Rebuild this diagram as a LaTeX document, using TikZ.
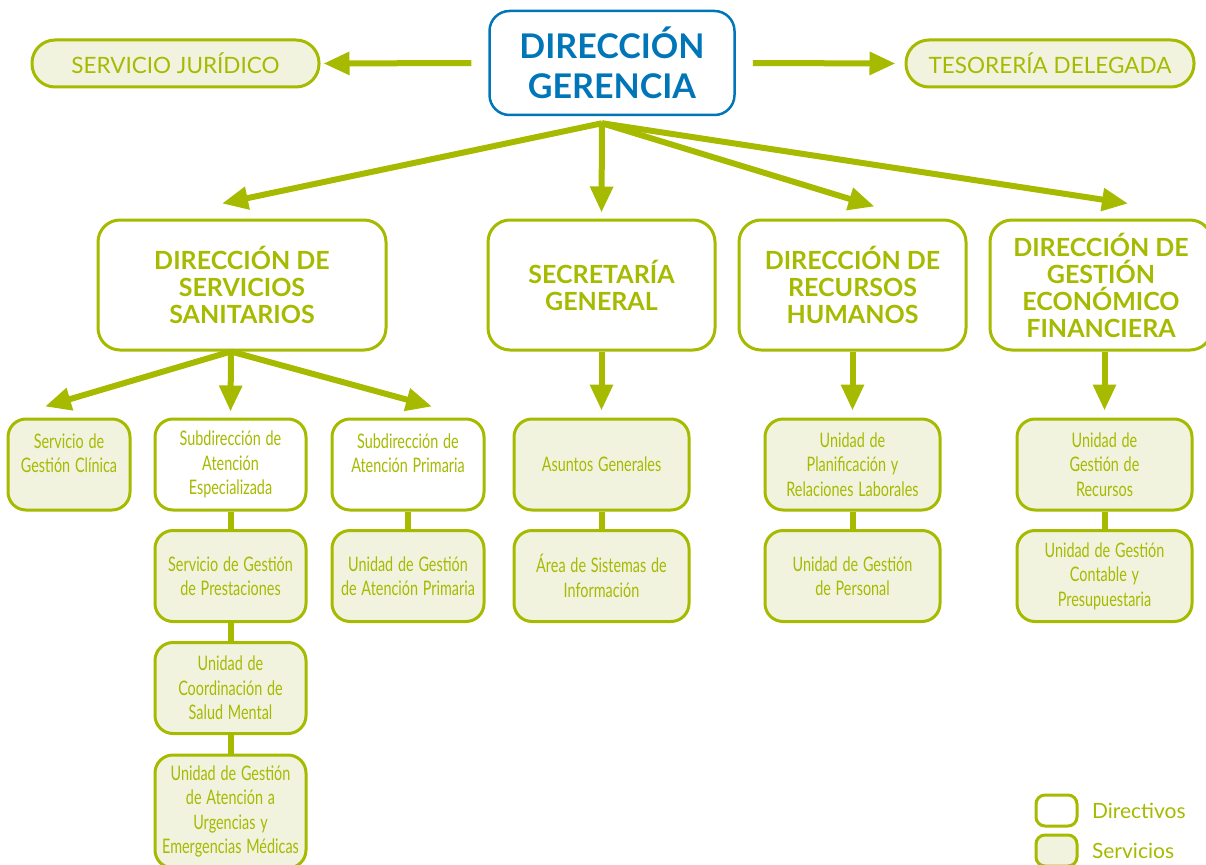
\documentclass[tikz,border=0pt]{standalone}
\usepackage{fontspec}
\setmainfont{Lato}
\newfontfamily\narrowfont[FakeStretch=0.72, WordSpace=1.3]{Lato}
\usetikzlibrary{arrows.meta}
\definecolor{lima}{RGB}{166,186,0}
\definecolor{limafill}{RGB}{241,243,223}
\definecolor{azul}{RGB}{0,118,184}
\tikzset{
  box/.style={draw=lima, line width=3pt, rounded corners=18pt, align=center, inner sep=0pt, text=lima},
  dirbox/.style={box, fill=white},
  servbox/.style={box, fill=limafill},
  headbox/.style={dirbox, minimum height=130pt, rounded corners=22pt, font=\bfseries\fontsize{25}{27}\selectfont},
  smallbox/.style={minimum height=91pt, font=\narrowfont\fontsize{20}{24.5}\selectfont},
  pillbox/.style={servbox, minimum height=47pt, rounded corners=23pt, font=\fontsize{22.5}{26}\selectfont},
  arr/.style={draw=lima, line width=6pt, -{Triangle[length=26pt,width=22pt]}},
  link/.style={draw=lima, line width=6pt}
}
\begin{document}
\begin{tikzpicture}[x=1pt, y=-1pt]
  \useasboundingbox (0,0) rectangle (1206,864);

  % top
  \node[box, draw=azul, text=azul, fill=white, line width=2.5pt, minimum width=245pt, minimum height=104pt, rounded corners=20pt, font=\bfseries\fontsize{34}{40}\selectfont] (dg) at (612,63) {DIRECCIÓN\\GERENCIA};
  \node[pillbox, minimum width=287pt] (sj) at (175.5,63.5) {SERVICIO JURÍDICO};
  \node[pillbox, minimum width=288pt] (td) at (1050,63.5) {TESORERÍA DELEGADA};
  \draw[arr] ([xshift=-17pt]dg.west) -- ([xshift=3pt]sj.east);
  \draw[arr] ([xshift=17pt]dg.east) -- ([xshift=-9pt]td.west);

  % direcciones
  \node[headbox, minimum width=288pt] (dss) at (242,285) {DIRECCIÓN DE\\SERVICIOS\\SANITARIOS};
  \node[headbox, minimum width=227pt] (sg) at (601.5,285) {SECRETARÍA\\GENERAL};
  \node[headbox, minimum width=227pt] (drh) at (852.5,285) {DIRECCIÓN DE\\RECURSOS\\HUMANOS};
  \node[headbox, minimum width=222pt] (dgef) at (1101,285) {DIRECCIÓN DE\\GESTIÓN\\ECONÓMICO\\FINANCIERA};

  \coordinate (dgfoot) at ([shift={(-10,7)}]dg.south);
  \draw[arr] (dgfoot) -- ([shift={(-20,-15)}]dss.north);
  \draw[arr] (dgfoot) -- ([shift={(0,-6)}]sg.north);
  \draw[arr] (dgfoot) -- ([shift={(22,-12)}]drh.north);
  \draw[arr] (dgfoot) -- ([shift={(27,-15)}]dgef.north);

  % servicios sanitarios
  \node[servbox, smallbox, minimum width=122pt] (sgc) at (69,464.5) {Servicio de\\Gestión Clínica\\[-2pt]};
  \node[dirbox, smallbox, minimum width=151pt] (sae) at (230.5,464.5) {Subdirección de\\Atención\\Especializada};
  \node[servbox, smallbox, minimum width=151pt] (sgp) at (230.5,576) {Servicio de Gestión\\de Prestaciones};
  \node[servbox, smallbox, minimum width=151pt] (ucsm) at (230.5,688) {Unidad de\\Coordinación de\\Salud Mental};
  \node[servbox, smallbox, minimum width=151pt, minimum height=113pt] (ugu) at (230.5,811.5) {Unidad de Gestión\\de Atención a\\Urgencias y\\Emergencias Médicas};
  \node[dirbox, smallbox, minimum width=152pt] (sap) at (408,464.5) {Subdirección de\\Atención Primaria\\[-2pt]};
  \node[servbox, smallbox, minimum width=152pt] (ugap) at (408,576) {Unidad de Gestión\\de Atención Primaria};

  \coordinate (dssfoot) at ([xshift=-11pt]dss.south);
  \draw[arr] (dssfoot) -- ([shift={(-24,-11)}]sgc.north);
  \draw[arr] (dssfoot) -- ([shift={(0,-6)}]sae.north);
  \draw[arr] (dssfoot) -- ([shift={(24,-11)}]sap.north);
  \draw[link] (sae) -- (sgp);
  \draw[link] (sgp) -- (ucsm);
  \draw[link] (ucsm) -- (ugu);
  \draw[link] (sap) -- (ugap);

  % secretaria, rrhh, gestion economica
  \node[servbox, smallbox, minimum width=175pt] (ag) at (601.5,464.5) {Asuntos Generales};
  \node[servbox, smallbox, minimum width=175pt] (asi) at (601.5,576) {Área de Sistemas de\\Información};
  \node[servbox, smallbox, minimum width=175pt] (uprl) at (852.5,464.5) {Unidad de\\Planificación y\\Relaciones Laborales};
  \node[servbox, smallbox, minimum width=175pt] (ugp) at (852.5,576) {Unidad de Gestión\\de Personal};
  \node[servbox, smallbox, minimum width=175pt] (ugr) at (1104.5,464.5) {Unidad de\\Gestión de\\Recursos};
  \node[servbox, smallbox, minimum width=175pt] (ugcp) at (1104.5,576) {Unidad de Gestión\\Contable y\\Presupuestaria};

  \foreach \up/\down in {sg/ag, drh/uprl, dgef/ugr}
    \draw[arr] (\down.north |- \up.south) -- ([yshift=7pt]\down.north);
  \foreach \up/\down in {ag/asi, uprl/ugp, ugr/ugcp}
    \draw[link] (\up) -- (\down);

  % leyenda
  \node[dirbox, minimum width=41pt, minimum height=31pt, rounded corners=9pt] (legdir) at (1056.5,810.5) {};
  \node[servbox, minimum width=41pt, minimum height=31pt, rounded corners=9pt] (legserv) at (1056.5,850.5) {};
  \node[anchor=west, text=lima, font=\fontsize{21}{24}\selectfont] (legdirtxt) at ([xshift=10pt]legdir.east) {Directivos};
  \node[anchor=west, text=lima, font=\fontsize{21}{24}\selectfont] (legservtxt) at ([xshift=10pt]legserv.east) {Servicios};
\end{tikzpicture}
\end{document}
